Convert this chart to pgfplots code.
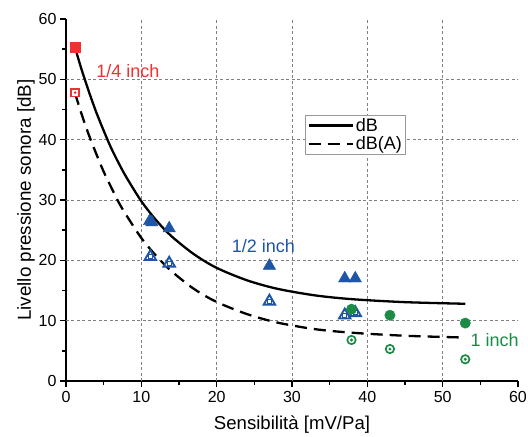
\documentclass[border=0pt]{standalone}
\usepackage{pgfplots}
\pgfplotsset{compat=1.18}
\usepackage{fontspec}
\setmainfont{Liberation Sans}
\definecolor{cred}{RGB}{238,50,50}
\definecolor{cblue}{RGB}{30,85,165}
\definecolor{cgreen}{RGB}{26,140,70}
\begin{document}
\begin{tikzpicture}
\useasboundingbox (-66bp,-56bp) rectangle (462bp,381bp);
\begin{axis}[
  scale only axis, width=452bp, height=362bp,
  xmin=0, xmax=60, ymin=0, ymax=60,
  axis x line*=bottom, axis y line*=left,
  axis line style={line width=1.8bp},
  xtick={0,10,...,60}, ytick={0,10,...,60},
  minor xtick={5,15,...,55}, minor ytick={5,15,...,55},
  tick align=outside,
  major tick length=6bp, minor tick length=4bp,
  every tick/.style={black, line width=1.6bp},
  extra x ticks={10,20,30,40,50}, extra y ticks={10,20,30,40,50},
  extra x tick labels={}, extra y tick labels={},
  extra tick style={grid=major, major tick length=0bp},
  major grid style={gray, dash pattern=on 3bp off 2.5bp, line width=0.7bp},
  /pgf/number format/assume math mode=true,
  tick label style={font=\fontsize{16bp}{18bp}\selectfont},
  xticklabel style={yshift=-1bp},
  xlabel={Sensibilità [mV/Pa]},
  ylabel={Livello pressione sonora [dB]},
  every axis x label/.style={at={(axis description cs:0.5,-0.1215)}, anchor=center, font=\fontsize{18.6bp}{20bp}\selectfont},
  every axis y label/.style={at={(axis description cs:-0.0885,0.5)}, anchor=center, rotate=90, font=\fontsize{18.8bp}{20bp}\selectfont},
  legend style={at={(0.529,0.735)}, anchor=north west, draw=gray!80, line width=0.8bp,
    font=\fontsize{18bp}{21bp}\selectfont, inner xsep=2bp, inner ysep=1bp},
  legend cell align=left,
  legend image code/.code={\draw[#1] (0bp,0bp) -- (44bp,0bp);},
]
% fitted curves
\addplot[black, line width=2.3bp, smooth] coordinates {
 (1.2,55.3) (2,51.9) (3,48.1) (4,44.6) (5,41.5) (6,38.6) (7,36.1) (8,33.8)
 (10,29.8) (12,26.6) (14,24.0) (17,21.0) (20,18.75) (24,16.7) (28,15.3)
 (33,14.2) (38,13.56) (45,13.07) (53,12.8)};
\addlegendentry{dB}
\addplot[black, line width=2.3bp, dash pattern=on 12bp off 7bp, smooth] coordinates {
 (1.2,47.7) (2,44.5) (3,40.9) (4,37.7) (5,34.7) (6,32.1) (7,29.6) (8,27.5)
 (10,23.7) (12,20.7) (14,18.2) (17,15.25) (20,13.1) (24,11.1) (28,9.7)
 (33,8.6) (38,8.0) (45,7.5) (53,7.2)};
\addlegendentry{dB(A)}
% 1/4 inch
\addplot[only marks, forget plot, mark=square*, mark size=5bp, color=cred] coordinates {(1.2,55.3)};
\addplot[only marks, forget plot, mark=square*, mark size=3.8bp, draw=cred, fill=white, line width=1.6bp] coordinates {(1.2,47.8)};
\addplot[only marks, forget plot, mark=*, mark size=1.1bp, color=cred] coordinates {(1.2,47.8)};
% 1/2 inch
\addplot[only marks, forget plot, mark=triangle*, mark size=7.2bp, color=cblue] coordinates {
 (11.1,26.5) (11.4,26.3) (13.7,25.3) (27.0,19.1) (37.0,17.0) (38.4,17.0)};
\addplot[only marks, forget plot, mark=triangle*, mark size=6.6bp, draw=cblue, fill=white, line width=1.9bp] coordinates {
 (11.2,20.6) (13.7,19.5) (27.0,13.2) (37.0,10.9) (38.4,11.3)};
\addplot[only marks, forget plot, mark=square, mark size=2.1bp, draw=cblue, line width=0.9bp] coordinates {
 (11.2,20.6) (13.7,19.5) (27.0,13.2) (37.0,10.9) (38.4,11.3)};
% 1 inch
\addplot[only marks, forget plot, mark=*, mark size=5.2bp, color=cgreen] coordinates {
 (37.9,11.9) (43.0,10.9) (53.0,9.6)};
\addplot[only marks, forget plot, mark=*, mark size=4.2bp, draw=cgreen, fill=white, line width=1.7bp] coordinates {
 (37.9,6.8) (43.0,5.3) (53.0,3.6)};
\addplot[only marks, forget plot, mark=*, mark size=1.3bp, color=cgreen] coordinates {
 (37.9,6.8) (43.0,5.3) (53.0,3.6)};
\node[text=cred, font=\fontsize{18bp}{20bp}\selectfont] at (axis cs:8.2,51.4) {1/4 inch};
\node[text=cblue, font=\fontsize{18bp}{20bp}\selectfont] at (axis cs:26.2,22.3) {1/2 inch};
\node[text=cgreen, font=\fontsize{18bp}{20bp}\selectfont] at (axis cs:56.9,6.8) {1 inch};
\end{axis}
\end{tikzpicture}
\end{document}
